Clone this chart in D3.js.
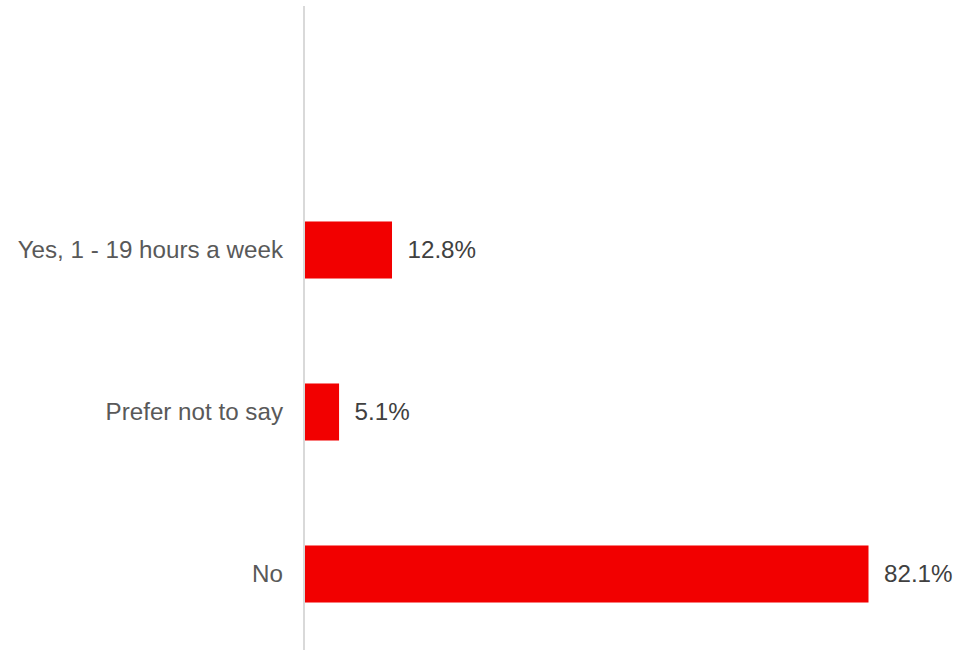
<!DOCTYPE html>
<html><head><meta charset="utf-8">
<script src="https://cdn.jsdelivr.net/npm/d3@7"></script>
<style>body{margin:0;background:#fff;}svg{display:block;font-family:"Liberation Sans",Arial,sans-serif;}</style>
</head><body>
<svg id="c" width="976" height="650"></svg>
<script>
const categories = ["", "Yes, 1 - 19 hours a week", "Prefer not to say", "No"];
const values = [null, 12.8, 5.1, 82.1];
const valueLabels = ["", "12.8%", "5.1%", "82.1%"];

const svg = d3.select("#c");
const x0 = 304;
const x = d3.scaleLinear().domain([0, 82.1]).range([x0, 868.5]);
const y = d3.scaleBand().domain(categories).range([7, 655]).paddingInner(0.648).paddingOuter(0.324);

const data = categories.map((c, i) => ({c, v: values[i], l: valueLabels[i]})).filter(d => d.v != null);

svg.selectAll("rect.bar").data(data).enter().append("rect")
  .attr("class", "bar")
  .attr("x", x(0)).attr("y", d => y(d.c))
  .attr("width", d => x(d.v) - x(0)).attr("height", y.bandwidth())
  .attr("fill", "#f20000");

svg.append("line").attr("x1", x0).attr("x2", x0).attr("y1", 6).attr("y2", 655)
  .attr("stroke", "#d9d9d9").attr("stroke-width", 2);

svg.selectAll("text.cat").data(data).enter().append("text")
  .attr("class", "cat")
  .attr("x", x0 - 21).attr("y", d => y(d.c) + y.bandwidth() / 2)
  .attr("dy", "0.35em").attr("text-anchor", "end")
  .attr("font-size", 24.2).attr("fill", "#595959").text(d => d.c);

svg.selectAll("text.val").data(data).enter().append("text")
  .attr("class", "val")
  .attr("x", d => x(d.v) + 15.5).attr("y", d => y(d.c) + y.bandwidth() / 2)
  .attr("dy", "0.35em").attr("text-anchor", "start")
  .attr("font-size", 24.2).attr("fill", "#404040").text(d => d.l);
</script>
</body></html>
